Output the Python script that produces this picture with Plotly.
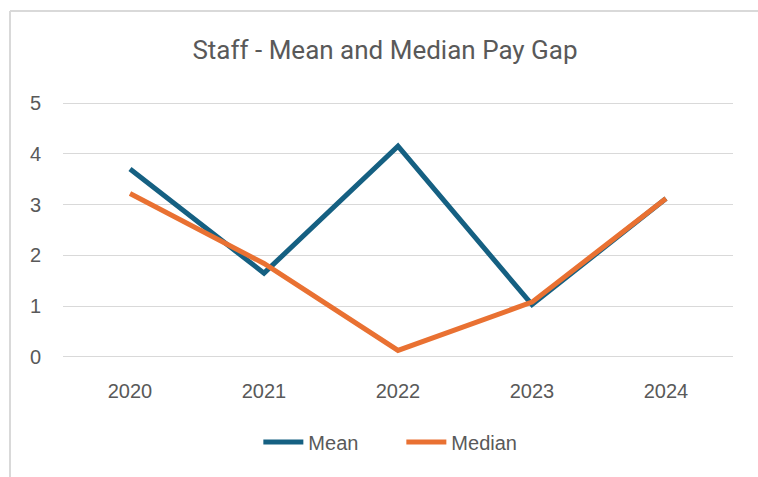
import plotly.graph_objects as go

years = ["2020", "2021", "2022", "2023", "2024"]
mean_gap = [3.70, 1.65, 4.15, 1.03, 3.12]
median_gap = [3.22, 1.84, 0.13, 1.08, 3.12]
y_ticks = [0, 1, 2, 3, 4, 5]

TXT = "#595959"
FONT = "Liberation Sans, Arial, sans-serif"

W, H = 758, 477
L, R, T, B = 63, 25, 101, 118
pw, ph = W - L - R, H - T - B

def px_x(x):
    return (x - L) / pw

def px_y(y):
    return (H - B - y) / ph

fig = go.Figure()
fig.add_trace(go.Scatter(x=years, y=mean_gap, mode="lines", name="Mean",
                         line=dict(color="#156082", width=5)))
fig.add_trace(go.Scatter(x=years, y=median_gap, mode="lines", name="Median",
                         line=dict(color="#E97132", width=5)))

fig.update_layout(
    width=W, height=H,
    margin=dict(l=L, r=R, t=T, b=B),
    paper_bgcolor="white", plot_bgcolor="white",
    title=dict(text="Staff - Mean and Median Pay Gap",
               font=dict(family="Roboto, sans-serif", size=26, color=TXT),
               x=385 / W, xanchor="center", y=1 - 50 / H, yanchor="middle"),
    xaxis=dict(type="category", range=[-0.5, 4.5], showgrid=False, zeroline=False,
               showline=False, ticks="", tickfont=dict(family=FONT, size=20, color=TXT),
               ticklabelstandoff=18),
    yaxis=dict(range=[-0.04, 5.04], tickvals=y_ticks, showgrid=True, gridcolor="#D9D9D9",
               gridwidth=1, zeroline=False, showline=False, ticks="",
               tickfont=dict(family=FONT, size=20, color=TXT), ticklabelstandoff=21),
    legend=dict(orientation="h", x=0.505, xanchor="center", y=px_y(442), yanchor="middle",
                font=dict(family=FONT, size=20, color=TXT), itemwidth=40,
                entrywidth=88, bgcolor="rgba(0,0,0,0)"),
    showlegend=True,
)

# chart border (light gray), partly cropped in reference
fig.add_shape(type="line", xref="paper", yref="paper",
              x0=px_x(10), x1=px_x(10), y0=px_y(11), y1=px_y(477),
              line=dict(color="#D9D9D9", width=2))
fig.add_shape(type="line", xref="paper", yref="paper",
              x0=px_x(10), x1=px_x(758), y0=px_y(11), y1=px_y(11),
              line=dict(color="#D9D9D9", width=2))

fig.write_html("out.html", config={"displayModeBar": False},
               post_script="document.body.style.margin='0';")
